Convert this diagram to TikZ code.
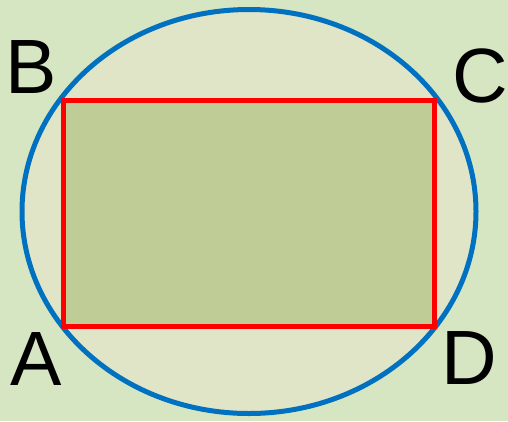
\documentclass[tikz,border=0pt]{standalone}
\usepackage{fontspec}
\setmainfont{Liberation Sans}
\definecolor{bgGreen}{RGB}{214,230,194}
\definecolor{ovalFill}{RGB}{224,229,200}
\definecolor{boxFill}{RGB}{192,204,150}
\definecolor{ovalBlue}{RGB}{0,112,192}
\begin{document}
\begin{tikzpicture}[x=1pt, y=-1pt, line join=miter]
  \tikzset{oval/.style={draw=ovalBlue, fill=ovalFill, line width=5pt}, box/.style={draw=red, fill=boxFill, line width=5pt}, corner/.style={font=\fontsize{77}{77}\selectfont, inner sep=0pt, anchor=base}}

  % background fixes the page size
  \fill[bgGreen] (0,0) rectangle (508,421);
  \useasboundingbox (0,0) rectangle (508,421);

  % circumscribed oval and inscribed rectangle
  \draw[oval] (249,211.5) ellipse (227 and 202);
  \coordinate (pA) at (63,326);
  \coordinate (pB) at (63,100);
  \coordinate (pC) at (434,100);
  \coordinate (pD) at (434,326);
  \draw[box] (pA) -- (pB) -- (pC) -- (pD) -- cycle;

  % vertex labels
  \node[corner] (lB) at (31.5,93) {B};
  \node[corner] (lC) at (480.5,102) {C};
  \node[corner] (lA) at (36,385) {A};
  \node[corner] (lD) at (469,384) {D};
\end{tikzpicture}
\end{document}
